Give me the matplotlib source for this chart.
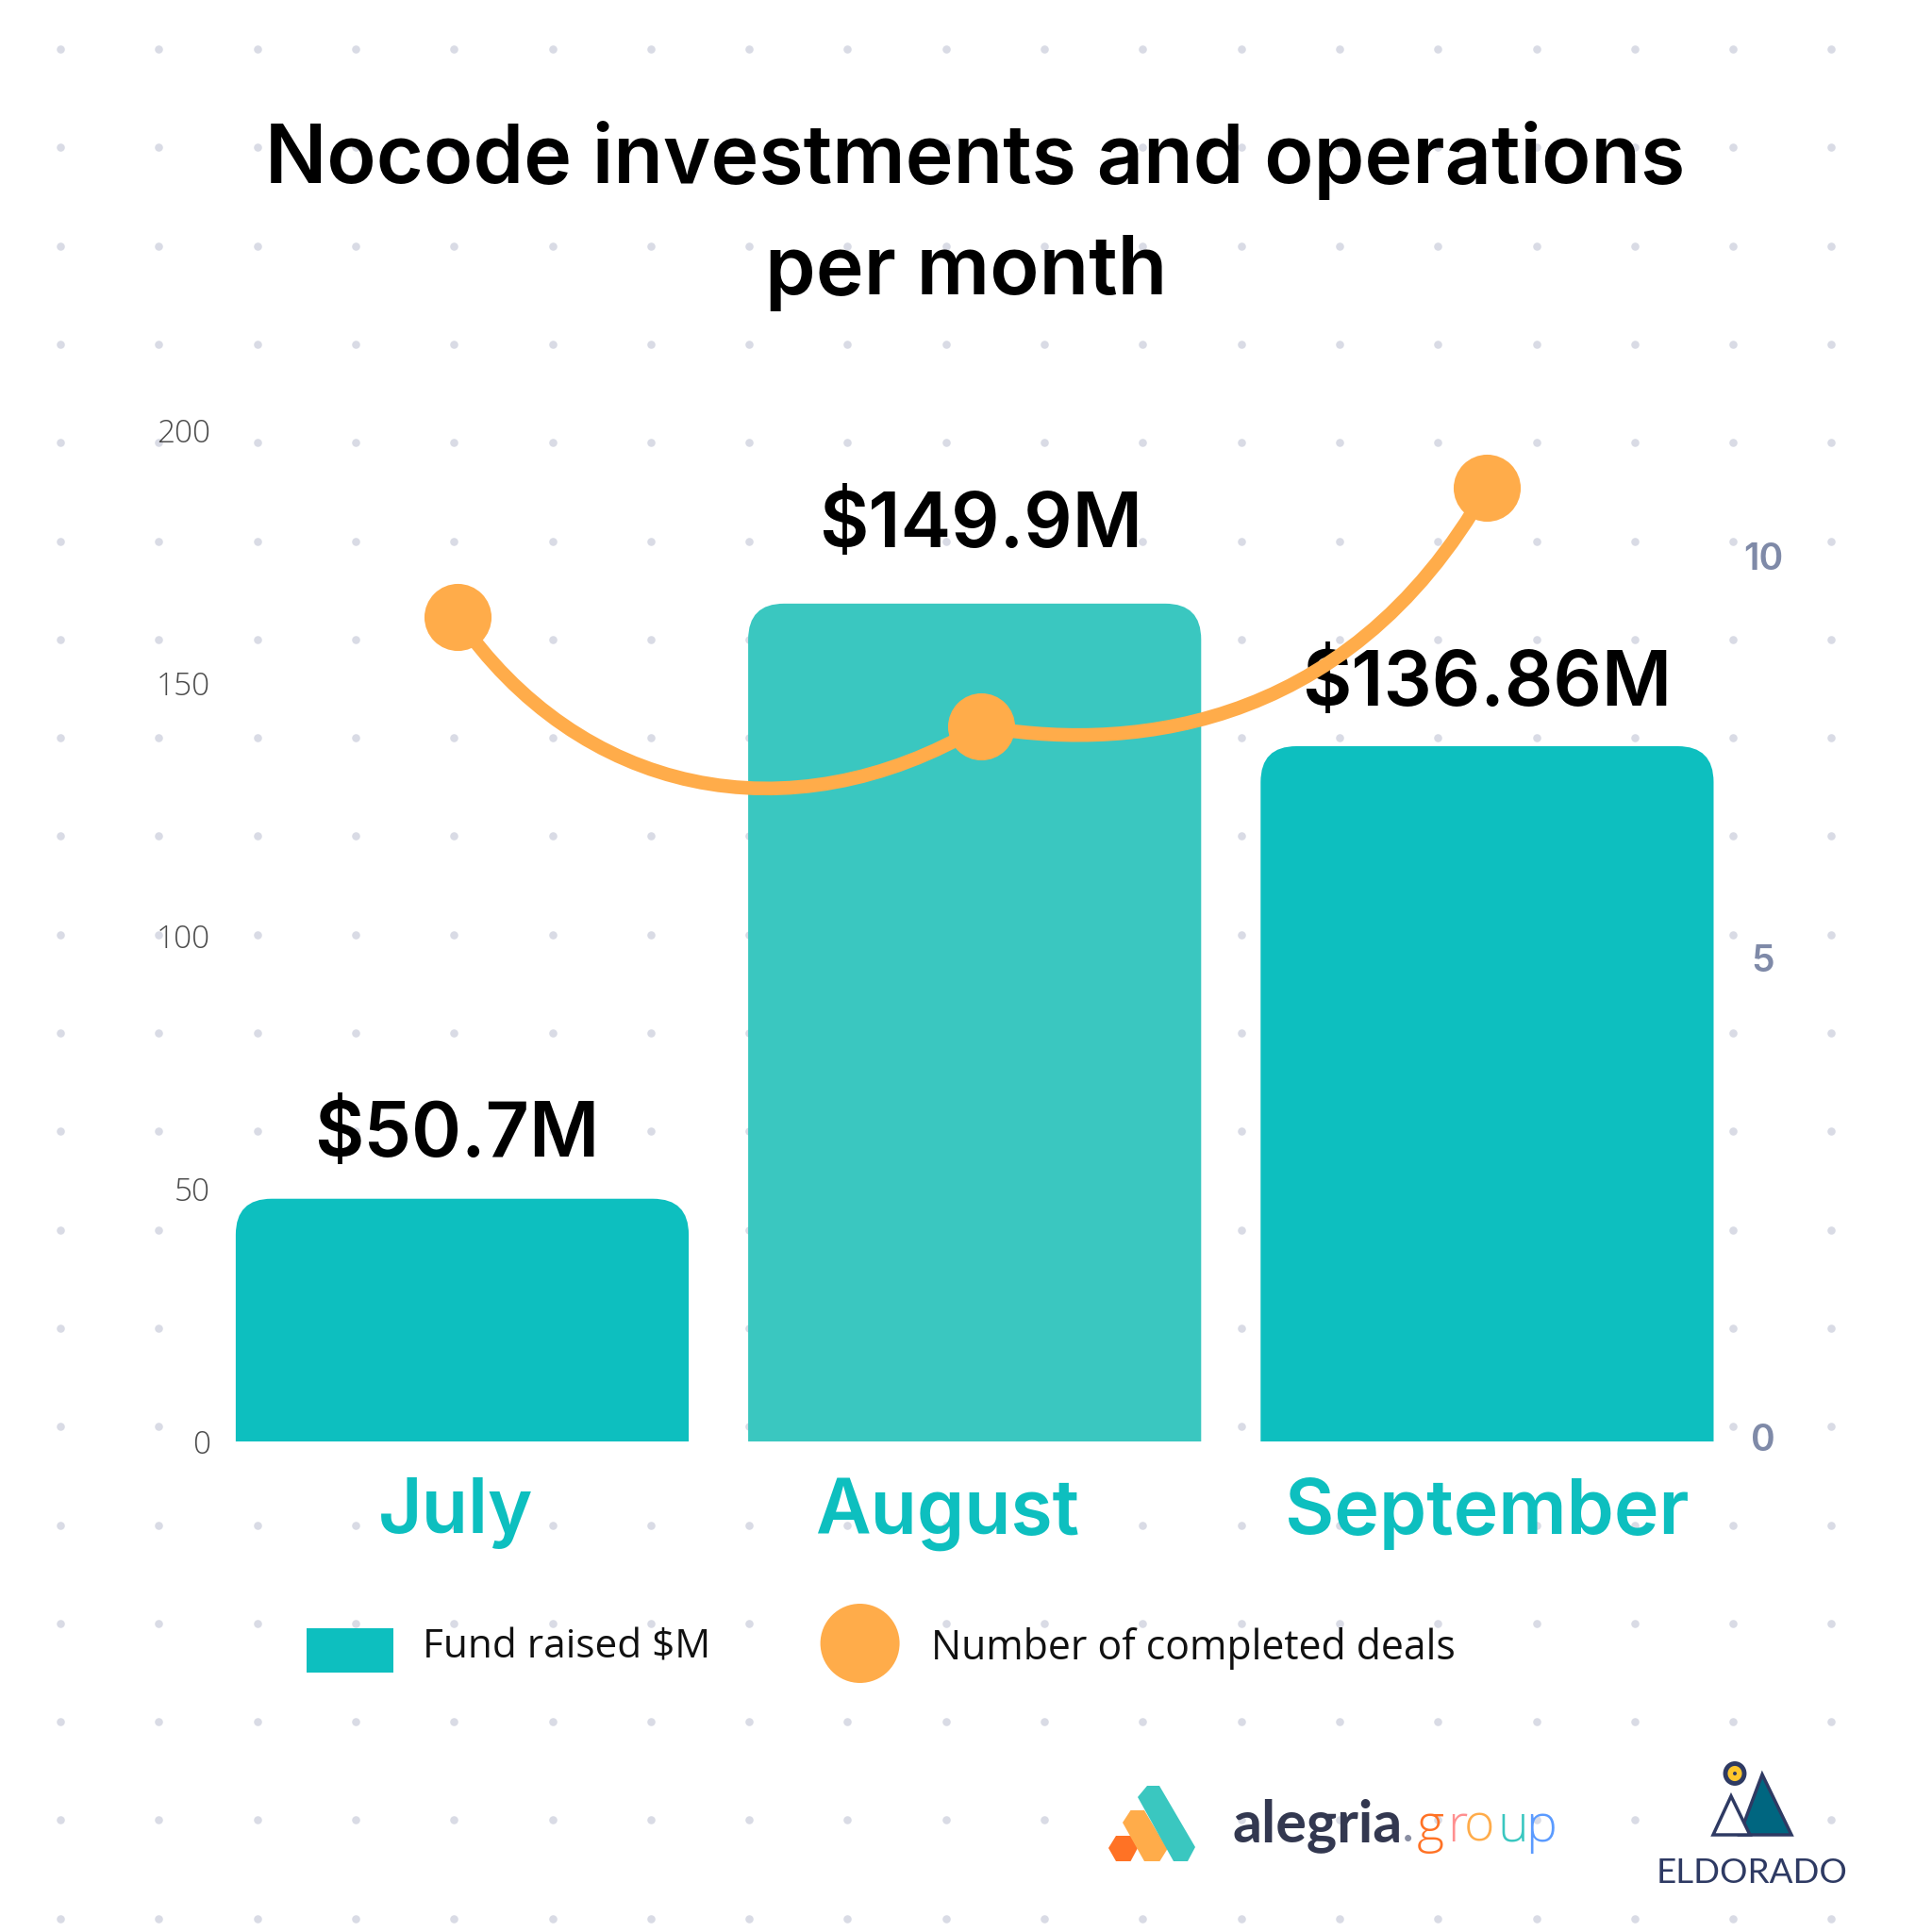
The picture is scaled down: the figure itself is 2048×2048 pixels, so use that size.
import matplotlib
matplotlib.use("Agg")
import matplotlib.pyplot as plt
import numpy as np
from matplotlib.patches import Circle, Ellipse, PathPatch, Polygon, Rectangle
from matplotlib.path import Path

# data
months = ["July", "August", "September"]
bar_heights = [48, 165.7, 137.5]
bar_labels = ["$50.7M", "$149.9M", "$136.86M"]
deals = [9.31, 8.07, 10.78]
deal_x = [-0.01, 1.012, 2.0]
# bezier handles of the smoothed deals line
handle_x = [0.228, 0.637, 1.27, 1.72]
handle_y = [7.30, 6.78, 7.80, 7.90]
left_ticks = [0, 50, 100, 150, 200]
right_ticks = [0, 5.44, 10]
right_tick_labels = ["0", "5", "10"]

TEAL = "#0DBFBF"
TEAL_LIGHT = "#3AC7C0"
ORANGE = "#FFAC4A"
NAVY = "#2E3A63"
HEAD = "Inter"
W = 2048

fig = plt.figure(figsize=(20.48, 20.48), dpi=100, facecolor="white")

# page overlay in pixel coordinates, used for the dots, legend and logos
bg = fig.add_axes([0, 0, 1, 1], zorder=0)
bg.set_xlim(0, W)
bg.set_ylim(W, 0)
bg.axis("off")
dx, dy = np.meshgrid(64 + 104.3 * np.arange(19), 52 + 104.3 * np.arange(20))
bg.scatter(dx.ravel(), dy.ravel(), s=38, color="#D9DBE5", linewidths=0)

# chart axes, pixel box 223..1848 x 456..1528
ax = fig.add_axes([223 / W, 1 - 1528 / W, 1625 / W, 1072 / W], zorder=1)
ax.patch.set_alpha(0)
ax.set_xlim(-0.4915, 2.5)
ax.set_ylim(0, 200)
for s in ax.spines.values():
    s.set_visible(False)

bar_colors = [TEAL, TEAL_LIGHT, TEAL]
x = np.arange(len(months))
bars = ax.bar(x, bar_heights, width=0.884, color=bar_colors, linewidth=0)

# swap the top of every bar for rounded corners
rx, ry = 0.07, 7.1
for b, c in zip(bars, bar_colors):
    x0, x1, h = b.get_x(), b.get_x() + b.get_width(), b.get_height()
    verts = [(x0, 0), (x0, h - ry), (x0, h), (x0 + rx, h), (x1 - rx, h),
             (x1, h), (x1, h - ry), (x1, 0), (x0, 0)]
    codes = [Path.MOVETO, Path.LINETO, Path.CURVE3, Path.CURVE3, Path.LINETO,
             Path.CURVE3, Path.CURVE3, Path.LINETO, Path.CLOSEPOLY]
    b.set_visible(False)
    ax.add_patch(PathPatch(Path(verts, codes), facecolor=c, edgecolor="none"))

ax.set_yticks(left_ticks)
ax.tick_params(axis="y", length=0, pad=0)
for t in ax.get_yticklabels():
    t.set(family="Open Sans", fontweight="light", fontsize=24, color="#4A4A4A")

ax.set_xticks([-0.013, 0.947, 2.0])
ax.set_xticklabels(months, family=HEAD, fontweight="semibold", fontsize=58, color=TEAL)
ax.tick_params(axis="x", length=0, pad=27.5)

offsets = [47.5, 58, 46]
for xp, h, lab, off in zip(deal_x, bar_heights, bar_labels, offsets):
    ax.annotate(lab, (xp, h), xytext=(0, off), textcoords="offset points",
                ha="center", va="center", family=HEAD, fontweight="semibold",
                fontsize=58, color="black", zorder=6)

# deals line on the right axis
ax2 = ax.twinx()
ax2.patch.set_alpha(0)
ax2.set_ylim(-0.043, 11.43)
for s in ax2.spines.values():
    s.set_visible(False)
ax2.set_yticks(right_ticks)
ax2.set_yticklabels(right_tick_labels, family=HEAD, fontweight="semibold", fontsize=28,
                    color="#7F8AA8", ha="center")
ax2.tick_params(axis="y", length=0, pad=15)

curve = Path(
    [(deal_x[0], deals[0]), (handle_x[0], handle_y[0]), (handle_x[1], handle_y[1]),
     (deal_x[1], deals[1]), (handle_x[2], handle_y[2]), (handle_x[3], handle_y[3]),
     (deal_x[2], deals[2])],
    [Path.MOVETO] + [Path.CURVE4] * 6,
)
ax2.add_patch(PathPatch(curve, facecolor="none", edgecolor=ORANGE, linewidth=10.5, zorder=3))
ax2.scatter(deal_x, deals, s=2620, color=ORANGE, linewidths=0, zorder=4, clip_on=False)

# title
fig.text(1034 / W, 1 - 170 / W, "Nocode investments and operations", ha="center", va="center",
         family=HEAD, fontweight="semibold", fontsize=62, color="black")
fig.text(1024 / W, 1 - 290 / W, "per month", ha="center", va="center",
         family=HEAD, fontweight="semibold", fontsize=62, color="black")

# legend
bg.add_patch(Rectangle((325, 1726), 92, 47, facecolor=TEAL, edgecolor="none"))
bg.text(448, 1746, "Fund raised $M", va="center", family="Open Sans", fontsize=30.4, color="#111111")
bg.add_patch(Circle((911.6, 1742), 42, facecolor=ORANGE, edgecolor="none"))
bg.text(987, 1748, "Number of completed deals", va="center", family="Open Sans", fontsize=30.8,
        color="#111111")

# alegria.group logo
bg.add_patch(Polygon([(1175, 1959), (1183, 1946), (1198.5, 1946), (1206, 1959), (1198.5, 1973), (1183, 1973)],
                     facecolor="#FF7225", edgecolor="none", zorder=3))
bg.add_patch(Polygon([(1190, 1932), (1198.5, 1919), (1213, 1919), (1237.5, 1960), (1229.4, 1973), (1213, 1973)],
                     facecolor=ORANGE, edgecolor="none", zorder=3))
bg.add_patch(Polygon([(1206, 1905), (1216, 1893), (1229, 1893), (1267, 1958), (1259, 1973), (1244, 1973)],
                     facecolor=TEAL_LIGHT, edgecolor="none", zorder=3))
bg.text(1306, 1952, "alegria", family="Lato", fontweight="bold", fontsize=44, color="#333850",
        va="baseline", zorder=3)
bg.text(1486, 1952, ".", family="Lato", fontsize=40, color="#8A8FA3", va="baseline", zorder=3)
for ch, xp, col in zip("group", [1502, 1534, 1552, 1587, 1617],
                       ["#FF7225", "#FF8F8F", ORANGE, TEAL_LIGHT, "#5B9BFF"]):
    bg.text(xp, 1952, ch, family="Open Sans", fontweight="light", fontsize=40, color=col,
            va="baseline", zorder=3)

# eldorado logo
bg.add_patch(Polygon([(1868, 1881), (1899, 1945), (1844, 1945)], facecolor="#006680",
                     edgecolor=NAVY, linewidth=2.5, zorder=3))
bg.add_patch(Polygon([(1835, 1904), (1855, 1945), (1816, 1945)], facecolor="white",
                     edgecolor=NAVY, linewidth=2.5, zorder=3))
bg.add_patch(Ellipse((1839, 1880), 20, 21, facecolor="#FFC72C", edgecolor=NAVY, linewidth=3.5, zorder=3))
bg.add_patch(Circle((1839, 1880), 2, facecolor=NAVY, edgecolor="none", zorder=4))
bg.text(1857, 1985, "ELDORADO", ha="center", va="center", family="Lato", fontweight="normal",
        fontsize=26.5, color=NAVY, zorder=3)

fig.savefig("out.png", dpi=100, facecolor="white")
